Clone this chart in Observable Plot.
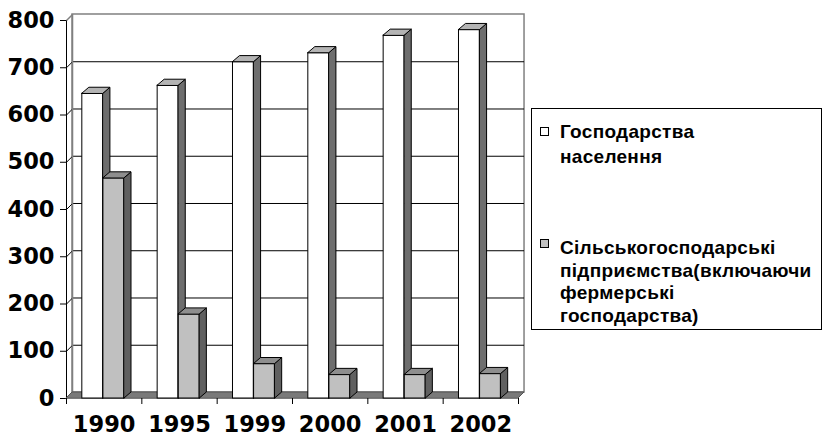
<!DOCTYPE html>
<html>
<head>
<meta charset="utf-8">
<script src="https://cdn.jsdelivr.net/npm/d3@7"></script>
<script src="https://cdn.jsdelivr.net/npm/@observablehq/plot@0.6"></script>
<style>
  html, body { margin: 0; padding: 0; background: #fff; }
  #wrap { position: relative; width: 826px; height: 438px; }
  #legend {
    position: absolute; left: 531px; top: 108px; width: 289px; height: 220px;
    border: 1px solid #000; background: #fff;
    font-family: "Liberation Sans", Arial, sans-serif; font-weight: bold; font-size: 19px;
    letter-spacing: 0.3px; color: #000;
  }
  .item { position: absolute; left: 28px; white-space: nowrap; }
  .sw { position: absolute; width: 7px; height: 7px; border: 1px solid #000; }
</style>
</head>
<body>
<div id="wrap">
  <div id="chart"></div>
  <div id="legend"></div>
</div>
<script>
// ---- data ----
const years = ["1990", "1995", "1999", "2000", "2001", "2002"];
const households = [645, 662, 712, 731, 768, 780];      // Господарства населення
const enterprises = [466, 178, 73, 50, 50, 52];         // Сільськогосподарські підприємства
const seriesNames = ["Господарства населення", "Сільськогосподарські підприємства(включаючи фермерські господарства)"];
const yTicks = [0, 100, 200, 300, 400, 500, 600, 700, 800];

// ---- 3D look constants (in scale units) ----
const WALL_DX = 0.08, BAR_DX = 0.093, DEPTH_Y = 12.7;
const BAR_L = [0.21, 0.49], BAR_R = [0.49, 0.77];

const series = [
  {values: households, off: BAR_L, front: "#ffffff", side: "#6e6e6e", top: "#b4b4b4"},
  {values: enterprises, off: BAR_R, front: "#c0c0c0", side: "#606060", top: "#8e8e8e"}
];

function bars(s) {
  return s.values.map((v, i) => ({i, v, x1: i + s.off[0], x2: i + s.off[1]}));
}
function sidePts(s) {
  return bars(s).flatMap(b => [
    {z: b.i, x: b.x2, y1: 0, y2: b.v},
    {z: b.i, x: b.x2 + BAR_DX, y1: DEPTH_Y, y2: b.v + DEPTH_Y}
  ]);
}
function topPts(s) {
  return bars(s).flatMap(b => [
    {z: b.i, y: b.v, x1: b.x1, x2: b.x2},
    {z: b.i, y: b.v + DEPTH_Y, x1: b.x1 + BAR_DX, x2: b.x2 + BAR_DX}
  ]);
}

const n = years.length;
const centers = years.map((d, i) => i + 0.5);
const bounds = d3.range(n + 1);

const barMarks = series.flatMap(s => [
  Plot.rect(bars(s), {x1: "x1", x2: "x2", y1: 0, y2: "v", fill: s.front, stroke: "#000", strokeWidth: 1}),
  Plot.areaY(sidePts(s), {x: "x", y1: "y1", y2: "y2", z: "z", fill: s.side, stroke: "#000", strokeWidth: 1}),
  Plot.areaX(topPts(s), {y: "y", x1: "x1", x2: "x2", z: "z", fill: s.top, stroke: "#000", strokeWidth: 1})
]);

const chart = Plot.plot({
  width: 826,
  height: 438,
  marginLeft: 66,
  marginRight: 308,
  marginTop: 20,
  marginBottom: 40,
  style: {
    fontFamily: "'DejaVu Sans', sans-serif",
    fontSize: "22.5px",
    fontWeight: "bold",
    color: "#000",
    background: "#fff",
    overflow: "visible"
  },
  x: {domain: [0, n], ticks: centers, tickFormat: d => years[Math.floor(d)], tickSize: 0, tickPadding: 18, label: null},
  y: {domain: [0, 800], ticks: yTicks, tickSize: 6, tickPadding: 6, label: null, line: true},
  marks: [
    // back wall
    Plot.rect([0], {x1: WALL_DX, x2: n + WALL_DX, y1: DEPTH_Y, y2: 800 + DEPTH_Y, fill: "#fff", stroke: "#808080", strokeWidth: 1.5}),
    // gridlines on back wall
    Plot.ruleY(yTicks.filter(t => t > 0 && t < 800), {y: d => d + DEPTH_Y, x1: WALL_DX, x2: n + WALL_DX, stroke: "#000", strokeWidth: 1}),
    // gridlines on left wall
    Plot.link(yTicks.filter(t => t < 800), {x1: 0, y1: d => d, x2: WALL_DX, y2: d => d + DEPTH_Y, stroke: "#000", strokeWidth: 1}),
    // left wall back edge and top edge
    Plot.ruleX([WALL_DX], {y1: DEPTH_Y, y2: 800 + DEPTH_Y, stroke: "#808080", strokeWidth: 1.5}),
    Plot.link([800], {x1: 0, y1: d => d, x2: WALL_DX, y2: d => d + DEPTH_Y, stroke: "#808080", strokeWidth: 1.5}),
    // floor
    Plot.areaX([{y: 0, x1: 0, x2: n}, {y: DEPTH_Y, x1: WALL_DX, x2: n + WALL_DX}], {y: "y", x1: "x1", x2: "x2", fill: "#7a7a7a", stroke: "#555", strokeWidth: 1}),
    // category boundary ticks
    Plot.ruleX(bounds, {y1: 0, y2: -12.7, stroke: "#000", strokeWidth: 1}),
    ...barMarks
  ]
});
document.getElementById("chart").appendChild(chart);

// ---- legend ----
const legend = document.getElementById("legend");
const legendItems = [
  {lines: ["Господарства", "населення"], fill: "#ffffff", top: 10, lh: 25, swTop: 18},
  {lines: ["Сільськогосподарські", "підприємства(включаючи", "фермерські", "господарства)"], fill: "#c0c0c0", top: 128, lh: 22.5, swTop: 130}
];
legendItems.forEach((it, k) => {
  const sw = document.createElement("div");
  sw.className = "sw";
  sw.style.left = "8px";
  sw.style.top = it.swTop + "px";
  sw.style.background = it.fill;
  sw.title = seriesNames[k];
  legend.appendChild(sw);
  const t = document.createElement("div");
  t.className = "item";
  t.style.top = it.top + "px";
  t.style.lineHeight = it.lh + "px";
  t.innerHTML = it.lines.join("<br>");
  legend.appendChild(t);
});
</script>
</body>
</html>
